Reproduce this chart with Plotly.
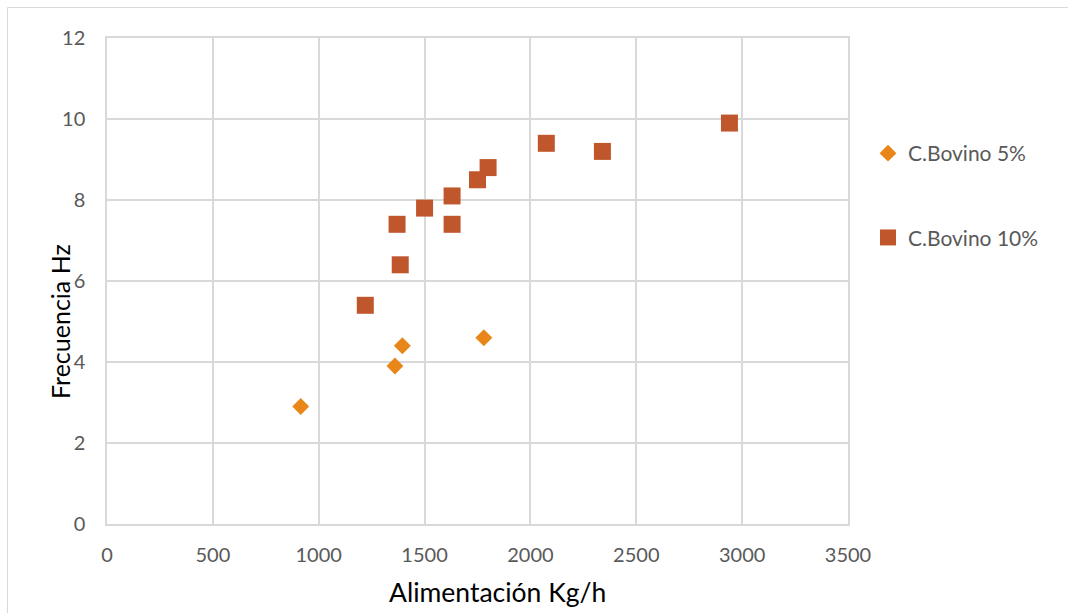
import plotly.graph_objects as go

# Data
x_5 = [915, 1360, 1395, 1780]
y_5 = [2.9, 3.9, 4.4, 4.6]

x_10 = [1220, 1370, 1385, 1500, 1630, 1630, 1750, 1800, 2075, 2340, 2940]
y_10 = [5.4, 7.4, 6.4, 7.8, 8.1, 7.4, 8.5, 8.8, 9.4, 9.2, 9.9]

name_5 = "C.Bovino 5%"
name_10 = "C.Bovino 10%"
x_title = "Alimentación Kg/h"
y_title = "Frecuencia Hz"

FONT = "Lato"
GRID = "#D9D9D9"
TICK = "#595959"

fig = go.Figure()
fig.add_trace(go.Scatter(x=x_5, y=y_5, mode="markers", name=name_5, legendgroup="a",
                         marker=dict(symbol="diamond", size=13, color="#E8861A")))
fig.add_trace(go.Scatter(x=x_10, y=y_10, mode="markers", name=name_10, legendgroup="b",
                         marker=dict(symbol="square", size=17, color="#C0572C")))

W, H = 1068, 613
L, R, T, B = 107, 848, 38, 524
pw, ph = R - L, B - T

def px(xp):
    return (xp - L) / pw

def py(yp):
    return (B - yp) / ph

fig.update_layout(
    width=W, height=H,
    margin=dict(l=L, r=W - R, t=T, b=H - B),
    paper_bgcolor="white", plot_bgcolor="white",
    font=dict(family=FONT, size=20, color=TICK),
    showlegend=True,
    legend=dict(x=px(868), y=py(133), xanchor="left", yanchor="top",
                font=dict(family=FONT, size=21, color=TICK),
                tracegroupgap=54, bgcolor="rgba(0,0,0,0)"),
    xaxis=dict(range=[0, 3500], dtick=500, tick0=0, showgrid=True, gridcolor=GRID,
               gridwidth=1.5, zeroline=False, showline=True, linecolor=GRID, linewidth=1.5,
               mirror=True, ticks="", ticklabelstandoff=12,
               tickfont=dict(family=FONT, size=20, color=TICK)),
    yaxis=dict(range=[0, 12], dtick=2, tick0=0, showgrid=True, gridcolor=GRID,
               gridwidth=1.5, zeroline=False, showline=True, linecolor=GRID, linewidth=1.5,
               mirror=True, ticks="", ticklabelstandoff=16,
               tickfont=dict(family=FONT, size=20, color=TICK)),
    annotations=[
        dict(text=x_title, xref="paper", yref="paper", x=px(497), y=py(592),
             xanchor="center", yanchor="middle", showarrow=False,
             font=dict(family=FONT, size=26.5, color="#000000")),
        dict(text=y_title, xref="paper", yref="paper", x=px(60), y=py(322),
             xanchor="center", yanchor="middle", showarrow=False, textangle=-90,
             font=dict(family=FONT, size=25, color="#000000")),
    ],
    shapes=[
        dict(type="rect", xref="paper", yref="paper", x0=px(7.5), y0=py(7.5),
             x1=px(1200), y1=py(800), line=dict(color=GRID, width=1),
             fillcolor="rgba(0,0,0,0)", layer="below"),
    ],
)

fig.write_html("out.html")
